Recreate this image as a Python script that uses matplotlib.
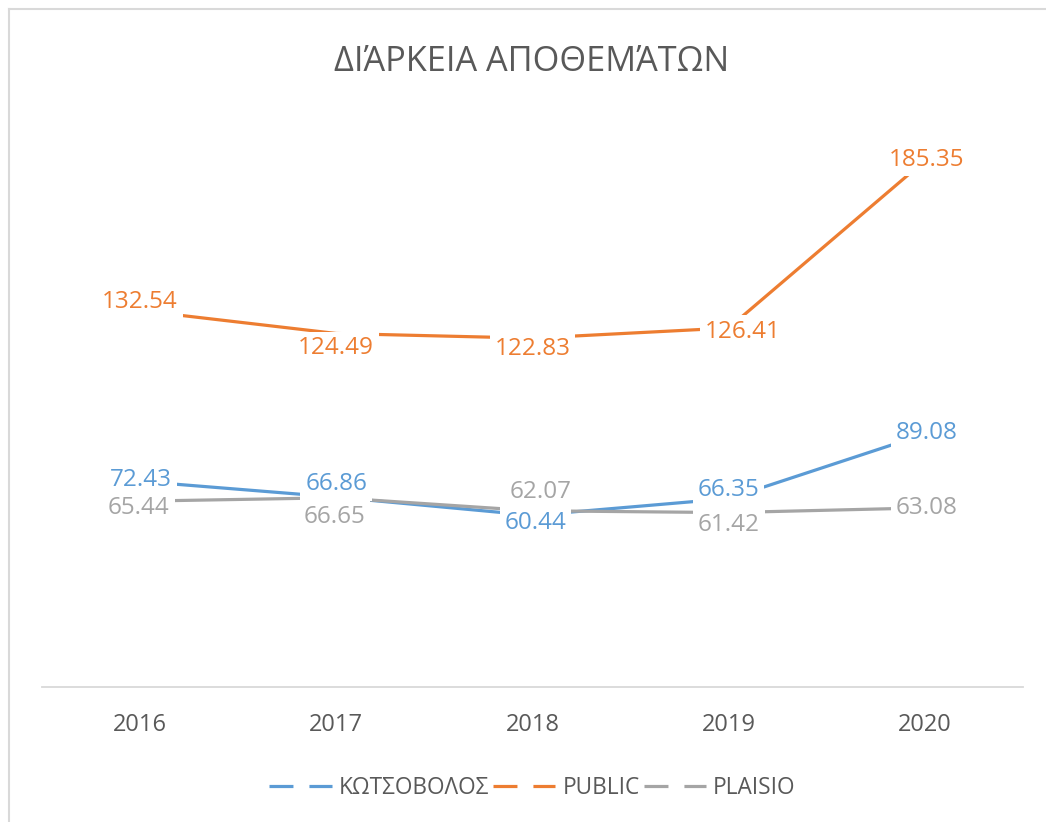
import matplotlib
matplotlib.use("Agg")
import matplotlib.pyplot as plt
from matplotlib.lines import Line2D

plt.rcParams['font.family'] = ['Open Sans', 'DejaVu Sans']

years = ['2016', '2017', '2018', '2019', '2020']
kotsovolos = [72.43, 66.86, 60.44, 66.35, 89.08]
public = [132.54, 124.49, 122.83, 126.41, 185.35]
plaisio = [65.44, 66.65, 62.07, 61.42, 63.08]

series_names = ['ΚΩΤΣΟΒΟΛΟΣ', 'PUBLIC', 'PLAISIO']
colors = ['#5B9BD5', '#ED7D31', '#A5A5A5']

# label offsets (pixels) to mimic Excel's label placement
label_offsets = [
    [(1, 1), (0, 13), (3, -8), (0, 9), (2, 1)],
    [(0, 9), (0, -15), (0, -11), (14, -4), (2, 1)],
    [(-1, -7), (-2, -19), (8, 19), (0, -12), (2, 0)],
]

fig = plt.figure(figsize=(10.46, 8.22), dpi=100)
ax = fig.add_axes([0.040, 0.1642, 0.938, 0.691])

x = list(range(len(years)))
all_series = [kotsovolos, public, plaisio]
for vals, c in zip(all_series, colors):
    ax.plot(x, vals, color=c, lw=2.3, solid_capstyle='butt', zorder=2)

for vals, c, offs in zip(all_series, colors, label_offsets):
    for xi, v, off in zip(x, vals, offs):
        ax.annotate(f'{v:.2f}', (xi, v), xytext=off, textcoords='offset pixels',
                    ha='center', va='center', fontsize=17.5, color=c, zorder=5,
                    bbox=dict(boxstyle='square,pad=0.2', fc='white', ec='none'))

ax.set_xlim(-0.5, len(years) - 0.5)
ax.set_ylim(0, 200)
ax.set_xticks(x)
ax.set_xticklabels(years, fontsize=17, color='#595959')
ax.tick_params(axis='x', length=0, pad=19)
ax.set_yticks([])
for s in ['top', 'right', 'left']:
    ax.spines[s].set_visible(False)
ax.spines['bottom'].set_color('#D9D9D9')
ax.spines['bottom'].set_linewidth(1.3)

fig.text(0.508, 0.925, 'ΔΙΆΡΚΕΙΑ ΑΠΟΘΕΜΆΤΩΝ', ha='center', va='center',
         fontsize=24.7, color='#595959')

handles = [Line2D([], [], color=c, lw=2.3, dashes=(7.5, 5.0)) for c in colors]
fig.legend(handles, series_names, loc='center', bbox_to_anchor=(0.509, 0.041),
           ncol=3, frameon=False, fontsize=16.3, labelcolor='#595959',
           handlelength=2.75, handletextpad=0.3, columnspacing=0.2)

# chart area border (top and left only visible)
fig.add_artist(Line2D([0.0086, 1.0], [0.989, 0.989], transform=fig.transFigure,
                      color='#D9D9D9', lw=1.5))
fig.add_artist(Line2D([0.0086, 0.0086], [0.0, 0.989], transform=fig.transFigure,
                      color='#D9D9D9', lw=1.5))

fig.savefig('out.png', dpi=100)
